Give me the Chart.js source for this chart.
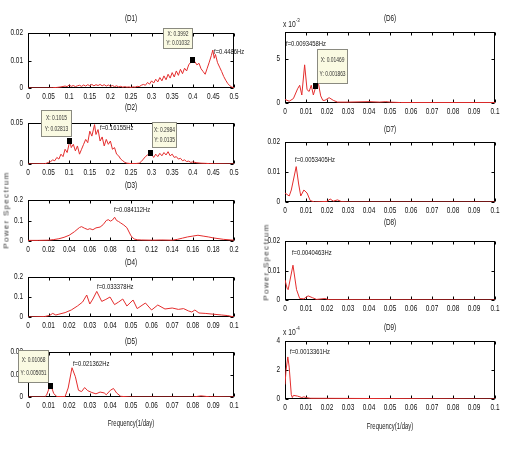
<!DOCTYPE html>
<html><head><meta charset="utf-8">
<script src="https://cdn.jsdelivr.net/npm/chart.js@4"></script>
<style>
body{margin:0;background:#fff;width:509px;height:453px;position:relative;overflow:hidden;font-family:'Liberation Sans',Arial,sans-serif;}
canvas{position:absolute;}
.lbl{position:absolute;font-size:9px;color:#222;white-space:nowrap;transform:translate(-50%,-50%) scaleX(0.66);}
.vlab{position:absolute;font-size:8px;letter-spacing:1.3px;color:#333;white-space:nowrap;transform:translate(-50%,-50%) rotate(-90deg);}
.mul{position:absolute;font-size:9px;color:#222;white-space:nowrap;transform:scaleX(0.75);transform-origin:0 0;}
.mul sup{font-size:6px;vertical-align:5px;}
</style></head><body>
<script>
// ---------- data ----------
const panelTitles = ['(D1)','(D2)','(D3)','(D4)','(D5)','(D6)','(D7)','(D8)','(D9)'];
const peakLabels = ['f=0.4486Hz','f=0.16155Hz','f=0.084112Hz','f=0.033378Hz','f=0.021362Hz','f=0.0093458Hz','f=0.0053405Hz','f=0.0040463Hz','f=0.0013361Hz'];
const axisLabelX = 'Frequency(1/day)';
const axisLabelY = 'Power Spectrum';

const d1Freq = [0,0.05,0.06,0.07,0.08,0.09,0.095,0.1,
 0.105,0.11,0.115,0.12,0.125,0.13,0.135,0.14,0.145,0.15,0.155,0.16,0.165,0.17,0.175,0.18,0.185,0.19,0.195,0.2,
 0.205,0.21,0.215,0.22,0.225,0.23,0.235,0.24,0.245,0.25,0.255,0.26,0.265,0.27,0.275,0.28,0.285,0.29,0.295,0.3,
 0.305,0.31,0.315,0.32,0.325,0.33,0.335,0.34,0.345,0.35,0.355,0.36,0.365,0.37,0.375,0.38,0.385,0.39,0.395,0.3992,
 0.405,0.41,0.415,0.42,0.425,0.43,0.435,0.44,0.445,0.4486,0.452,0.455,0.46,0.465,0.47,0.475,0.48,0.485,0.49,0.495,0.5];
const d1Power = [0,0,0.0001,0.0002,0.0004,0.0007,0.0005,0.0011,
 0.0006,0.0009,0.0005,0.0008,0.0010,0.0006,0.0011,0.0007,0.0012,0.0008,0.0013,0.0008,0.0012,0.0009,0.0013,0.0008,0.0012,0.0007,0.0011,0.0006,
 0.0009,0.0005,0.0008,0.0004,0.0006,0.0003,0.0005,0.0003,0.0004,0.0002,0.0004,0.0003,0.0006,0.0005,0.0010,0.0013,0.0010,0.0020,0.0014,0.0026,
 0.0018,0.0032,0.0022,0.0038,0.0026,0.0044,0.0030,0.0050,0.0036,0.0056,0.0040,0.0062,0.0046,0.0068,0.0052,0.0072,0.0062,0.0084,0.0094,0.01032,
 0.0096,0.0084,0.0090,0.0070,0.0060,0.0050,0.0072,0.0094,0.0118,0.0138,0.0108,0.0122,0.0092,0.0076,0.0060,0.0042,0.0028,0.0016,0.0008,0.0003,0.0001];

const d2Freq = [0,0.04,0.045,0.05,0.055,0.06,0.065,0.07,0.075,0.08,
 0.085,0.09,0.095,0.1015,0.105,0.11,0.115,0.12,0.125,0.13,
 0.135,0.14,0.145,0.15,0.155,0.16155,0.165,0.17,0.175,0.18,
 0.185,0.19,0.195,0.2,0.205,0.21,0.215,0.22,0.225,0.23,
 0.235,0.24,0.25,0.26,0.27,0.275,0.28,0.285,0.29,0.2984,
 0.3,0.305,0.31,0.315,0.32,0.325,0.33,0.335,0.34,0.345,
 0.35,0.355,0.36,0.365,0.37,0.375,0.38,0.385,0.39,0.395,
 0.4,0.41,0.42,0.43,0.44,0.45,0.5];
const d2Power = [0,0.0003,0.001,0.002,0.003,0.005,0.004,0.008,0.006,0.012,
 0.009,0.018,0.014,0.02813,0.020,0.024,0.016,0.022,0.012,0.018,
 0.024,0.030,0.026,0.040,0.034,0.048,0.036,0.042,0.028,0.033,
 0.022,0.030,0.024,0.028,0.018,0.020,0.012,0.010,0.006,0.004,
 0.002,0.001,0.0005,0.0005,0.001,0.003,0.006,0.009,0.011,0.0135,
 0.012,0.008,0.012,0.009,0.013,0.010,0.014,0.011,0.015,0.010,
 0.012,0.008,0.009,0.006,0.007,0.004,0.005,0.003,0.0035,0.002,
 0.0025,0.0015,0.001,0.0008,0.0005,0.0003,0];

const d3Freq = [0,0.01,0.02,0.025,0.03,0.035,0.04,0.045,0.05,0.052,
 0.055,0.058,0.06,0.063,0.066,0.07,0.073,0.076,0.078,0.08,
 0.082,0.0841,0.086,0.088,0.09,0.093,0.096,0.1,0.103,0.106,
 0.11,0.12,0.13,0.14,0.145,0.15,0.155,0.16,0.165,0.17,
 0.175,0.18,0.19,0.2];
const d3Power = [0.003,0.003,0.004,0.007,0.011,0.018,0.028,0.045,0.066,0.07,
 0.062,0.056,0.06,0.055,0.064,0.068,0.08,0.1,0.104,0.097,
 0.102,0.116,0.1,0.095,0.088,0.078,0.065,0.025,0.01,0.006,
 0.005,0.004,0.005,0.004,0.008,0.014,0.02,0.024,0.028,0.024,
 0.02,0.015,0.008,0.004];

const d4Freq = [0,0.008,0.0105,0.012,0.0135,0.015,0.018,0.021,0.024,0.0265,
 0.0285,0.03,0.0315,0.03338,0.0358,0.0378,0.0398,0.042,0.044,0.046,
 0.048,0.051,0.053,0.057,0.06,0.063,0.0665,0.07,0.073,0.0755,
 0.078,0.0795,0.081,0.083,0.086,0.09,0.094,0.097,0.1];
const d4Power = [0,0.002,0.008,0.018,0.01,0.014,0.022,0.035,0.055,0.075,
 0.11,0.065,0.09,0.128,0.078,0.088,0.1,0.062,0.075,0.09,
 0.055,0.085,0.042,0.07,0.035,0.06,0.04,0.045,0.038,0.042,
 0.03,0.025,0.035,0.02,0.018,0.014,0.01,0.007,0];

const d5Freq = [0,0.008,0.009,0.0105,0.01068,0.0115,0.0125,0.014,0.018,0.0195,
 0.02136,0.023,0.0245,0.026,0.0275,0.029,0.031,0.033,0.035,0.037,
 0.038,0.04,0.0415,0.043,0.045,0.05,0.08,0.084,0.088,0.1];
const d5Power = [0,0,0.0008,0.0045,0.005051,0.0042,0.0015,0.0002,0.0002,0.004,
 0.013,0.009,0.003,0.0024,0.0042,0.0028,0.002,0.0014,0.0022,0.0018,
 0.001,0.003,0.0038,0.0018,0.0003,0,0,0.0005,0.0001,0];

const d6Freq = [0,0.002,0.004,0.006,0.007,0.008,0.00935,0.0105,0.0115,0.0125,
 0.0135,0.01469,0.016,0.017,0.018,0.019,0.021,0.023,0.025,0.03,
 0.04,0.045,0.048,0.05,0.055,0.1];
const d6Power = [0.0004,0.0002,0.0005,0.0016,0.0020,0.0009,0.0043,0.0015,0.0013,0.0020,
 0.0009,0.001863,0.0021,0.0008,0.0003,0.0003,0.0006,0.0003,0.0001,0.0001,
 0.00015,0.0001,0.00015,0.0001,0.00005,0.00005];

const d7Freq = [0,0.002,0.003,0.00534,0.0065,0.0075,0.009,0.0105,0.012,0.014,0.02,0.0215,0.023,0.025,0.027,0.03,0.1];
const d7Power = [0.003,0.002,0.004,0.0118,0.006,0.002,0.004,0.003,0.0005,0,0.0002,0.001,0.0003,0.0007,0.0001,0,0];

const d8Freq = [0,0.001,0.0015,0.0038,0.0055,0.007,0.009,0.011,0.013,0.015,0.019,0.021,0.1];
const d8Power = [0.0068,0.004,0.0035,0.0118,0.0035,0.0005,0.0004,0.0014,0.0008,0.0002,0.0005,0.0001,0];

const d9Freq = [0,0.0005,0.00134,0.002,0.003,0.0035,0.004,0.006,0.008,0.009,0.01,0.012,0.1];
const d9Power = [0.0001,0.0002,0.00029,0.00022,0.00003,0.00001,0.000025,0.00002,0.00001,0.000015,0.00001,0.000005,0];

// data tips (marker value + shown text)
const tipD1 = [{x:0.3992, y:0.01032, text:['X: 0.3992','Y: 0.01032']}];
const tipD2 = [{x:0.1015, y:0.02813, text:['X: 0.1015','Y: 0.02813']},
               {x:0.2984, y:0.0135, text:['X: 0.2984','Y: 0.0135']}];
const tipD5 = [{x:0.01068, y:0.005051, text:['X: 0.01068','Y: 0.005051']}];
const tipD6 = [{x:0.01469, y:0.001863, text:['X: 0.01469','Y: 0.001863']}];

// peak label anchor (data coords)
const labelPos = [[0.4515,0.0131],[0.1748,0.0439],[0.0835,0.151],[0.0335,0.15],[0.0218,0.0147],
                  [0.0005,0.00665],[0.0048,0.014],[0.0033,0.0159],[0.0024,0.000324]];

// ---------- layout / style ----------
const LINE = 'rgb(228,45,45)';
const FONT = "'Liberation Sans',Arial,sans-serif";
const SX = 0.72;
const fmt = v => String(parseFloat(Number(v).toFixed(6)));
const fmtE3 = v => String(parseFloat((v*1e3).toFixed(3)));
const fmtE4 = v => String(parseFloat((v*1e4).toFixed(3)));

const panels = [
 {i:0, freq:d1Freq, power:d1Power, rect:[28,33,234,88], titleY:19, xMax:0.5, xStep:0.05, yMax:0.02, yStep:0.01, tips:tipD1,
  tipBox:[[-29,-32,29,20]]},
 {i:1, freq:d2Freq, power:d2Power, rect:[28,123,234,164], titleY:108, xMax:0.5, xStep:0.05, yMax:0.05, yStep:0.05, tips:tipD2,
  tipBox:[[-29,-31,30,26],[1,-31,24,25]]},
 {i:2, freq:d3Freq, power:d3Power, rect:[28,200,234,241], titleY:186, xMax:0.2, xStep:0.02, yMax:0.2, yStep:0.1, tips:[]},
 {i:3, freq:d4Freq, power:d4Power, rect:[28,277,234,317], titleY:263, xMax:0.1, xStep:0.01, yMax:0.2, yStep:0.1, tips:[]},
 {i:4, freq:d5Freq, power:d5Power, rect:[28,352,234,397], titleY:342, xMax:0.1, xStep:0.01, yMax:0.02, yStep:0.01, tips:tipD5,
  tipBox:[[-32,-36,30,32]]},
 {i:5, freq:d6Freq, power:d6Power, rect:[285,32,495,103], titleY:19, xMax:0.1, xStep:0.01, yMax:0.008, yStep:0.005, tips:tipD6,
  tipBox:[[1,-37,30,34]], yFmt:fmtE3},
 {i:6, freq:d7Freq, power:d7Power, rect:[285,142,495,202], titleY:130, xMax:0.1, xStep:0.01, yMax:0.02, yStep:0.01, tips:[]},
 {i:7, freq:d8Freq, power:d8Power, rect:[285,241,495,300], titleY:223, xMax:0.1, xStep:0.01, yMax:0.02, yStep:0.01, tips:[]},
 {i:8, freq:d9Freq, power:d9Power, rect:[285,341,495,399], titleY:328, xMax:0.1, xStep:0.01, yMax:0.0004, yStep:0.0002, tips:[], yFmt:fmtE4}
];

const PL=32, PT=24, PR=16, PB=14;

function ntext(ctx, s, x, y, align, sx){
  ctx.save(); ctx.translate(x,y); ctx.scale(sx,1); ctx.textAlign=align; ctx.textBaseline='middle';
  ctx.fillText(s,0,0); ctx.restore();
}

function makePlugin(p){
  return {
    id:'matlab'+p.i,
    beforeDatasetsDraw(chart){
      const {ctx, chartArea:a, scales:{x,y}} = chart;
      ctx.save();
      const L=Math.round(a.left)+0.5, T=Math.round(a.top)+0.5, R=Math.round(a.right)-0.5, B=Math.round(a.bottom)-0.5;
      ctx.strokeStyle='#000'; ctx.lineWidth=1;
      ctx.strokeRect(L,T,R-L,B-T);
      ctx.beginPath();
      x.ticks.forEach(t=>{const px=Math.round(x.getPixelForValue(t.value))+0.5;
        ctx.moveTo(px,B); ctx.lineTo(px,B-3); ctx.moveTo(px,T); ctx.lineTo(px,T+3);});
      y.ticks.forEach(t=>{const py=Math.round(y.getPixelForValue(t.value))+0.5;
        ctx.moveTo(L,py); ctx.lineTo(L+3,py); ctx.moveTo(R,py); ctx.lineTo(R-3,py);});
      ctx.stroke();
      ctx.fillStyle='#111';
      ctx.font='9px '+FONT;
      x.ticks.forEach(t=>ntext(ctx, fmt(t.value), x.getPixelForValue(t.value), a.bottom+9, 'center', SX));
      const yf = p.yFmt||fmt;
      y.ticks.forEach(t=>ntext(ctx, yf(t.value), a.left-5, y.getPixelForValue(t.value), 'right', SX));
      ntext(ctx, panelTitles[p.i], (a.left+a.right)/2, a.top-(p.rect[1]-p.titleY), 'center', 0.7);
      ctx.restore();
    },
    afterDraw(chart){
      const {ctx, scales:{x,y}} = chart;
      ctx.save();
      ctx.fillStyle='#111'; ctx.font='8px '+FONT;
      const lp = labelPos[p.i];
      ntext(ctx, peakLabels[p.i], x.getPixelForValue(lp[0]), y.getPixelForValue(lp[1]), 'left', 0.73);
      p.tips.forEach((tp,k)=>{
        const px=x.getPixelForValue(tp.x), py=y.getPixelForValue(tp.y);
        const [dx,dy,w,h]=p.tipBox[k];
        const bx=Math.round(px+dx)+0.5, by=Math.round(py+dy)+0.5;
        ctx.fillStyle='rgb(250,250,226)'; ctx.fillRect(bx,by,w,h);
        ctx.strokeStyle='#8a8a80'; ctx.lineWidth=1; ctx.strokeRect(bx,by,w,h);
        ctx.fillStyle='#333'; ctx.font='7px '+FONT;
        ntext(ctx, tp.text[0], bx+w/2, by+h*0.3, 'center', 0.7);
        ntext(ctx, tp.text[1], bx+w/2, by+h*0.72, 'center', 0.7);
        ctx.fillStyle='#000';
        ctx.fillRect(Math.round(px-2.5), Math.round(py-3), 5, 6);
      });
      ctx.restore();
    }
  };
}

panels.forEach(p=>{
  const [l,t,r,b]=p.rect;
  const W=r-l+PL+PR, H=b-t+PT+PB;
  const c=document.createElement('canvas');
  c.width=W; c.height=H;
  c.style.left=(l-PL)+'px'; c.style.top=(t-PT)+'px';
  c.style.width=W+'px'; c.style.height=H+'px';
  document.body.appendChild(c);
  new Chart(c,{
    type:'line',
    data:{datasets:[{data:p.freq.map((f,k)=>({x:f,y:p.power[k]})), borderColor:LINE, borderWidth:1,
      pointRadius:0, tension:0, fill:false}]},
    options:{
      responsive:false, animation:false, events:[],
      layout:{padding:{top:PT,right:PR,left:0,bottom:0}},
      plugins:{legend:{display:false}, tooltip:{enabled:false}, title:{display:false}},
      scales:{
        x:{type:'linear', min:0, max:p.xMax, afterFit:s=>{s.height=PB;},
           grid:{display:false, drawTicks:false}, border:{display:false},
           ticks:{display:false, stepSize:p.xStep, autoSkip:false, maxRotation:0, minRotation:0}},
        y:{type:'linear', min:0, max:p.yMax, afterFit:s=>{s.width=PL;},
           grid:{display:false, drawTicks:false}, border:{display:false},
           ticks:{display:false, stepSize:p.yStep, includeBounds:false}}
      }
    },
    plugins:[makePlugin(p)]
  });
});

// html axis labels
function addDiv(cls, html, x, y){const d=document.createElement('div'); d.className=cls; d.innerHTML=html;
  d.style.left=x+'px'; d.style.top=y+'px'; document.body.appendChild(d);}
addDiv('vlab', axisLabelY, 6, 210);
addDiv('vlab', axisLabelY, 266, 262);
addDiv('lbl', axisLabelX, 131, 423);
addDiv('lbl', axisLabelX, 390, 426);
addDiv('mul', 'x 10<sup>-3</sup>', 283, 17);
addDiv('mul', 'x 10<sup>-4</sup>', 283, 325);
</script>
</body></html>
